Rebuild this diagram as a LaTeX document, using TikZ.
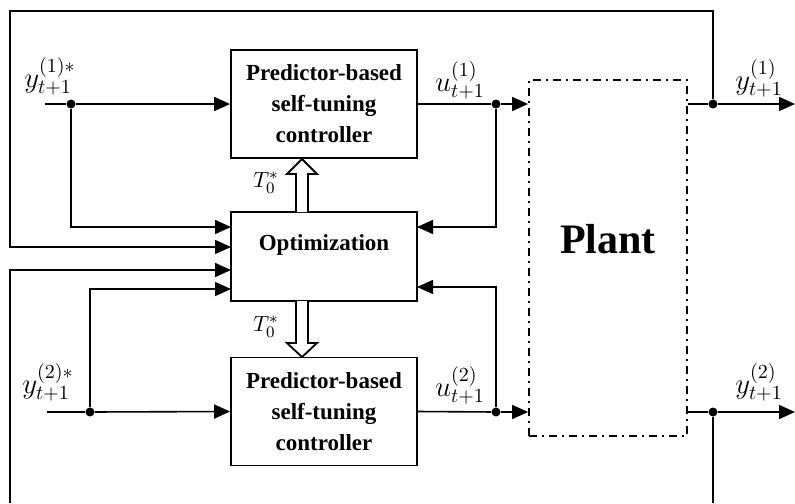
\documentclass[tikz,border=0pt]{standalone}
\usepackage{fontspec}
\setmainfont{Liberation Serif}
\usetikzlibrary{arrows.meta}
\tikzset{
  block/.style={draw, line width=0.9pt, minimum width=93pt, align=center,
    font=\fontsize{11.5}{15.5}\selectfont\bfseries},
  wire/.style={line width=0.8pt},
  arr/.style={line width=0.8pt, -{Triangle[length=8pt,width=7pt]}},
  dot/.style={circle, fill, inner sep=0pt, minimum size=4.5pt},
  lbl/.style={font=\fontsize{14}{16}\selectfont},
  hollow/.style={line width=0.9pt, fill=white},
}
\begin{document}
\begin{tikzpicture}[x=0.5pt, y=-0.5pt]
\useasboundingbox (0,0) rectangle (795,503);

% blocks
\node[block, minimum height=54pt] (ctrl1) at (324,104) {Predictor-based\\self-tuning\\controller};
\node[block, minimum height=44.5pt, text height=8pt, text depth=14pt] (opt) at (324,256.5) {Optimization};
\node[block, minimum height=54pt] (ctrl2) at (324,411.5) {Predictor-based\\self-tuning\\controller};
\node[draw, line width=0.9pt, dash pattern=on 4pt off 2.5pt on 1pt off 2.5pt,
  minimum width=79pt, minimum height=178pt, text height=15pt, text depth=20pt,
  font=\fontsize{21}{24}\selectfont\bfseries] (plant) at (608,258) {Plant};

% branch points
\coordinate (in1) at (45,104);
\coordinate (in2) at (47,412);
\node[dot] (j1) at (71,104) {};
\node[dot] (j2) at (90,412) {};
\node[dot] (ju1) at (496,104) {};
\node[dot] (ju2) at (496,412) {};
\node[dot] (jy1) at (713,104) {};
\node[dot] (jy2) at (713,412) {};
\coordinate (out1) at (795,104);
\coordinate (out2) at (795,412);

% inputs of the optimization block
\coordinate (oa) at (231,227);
\coordinate (ob) at (231,247);
\coordinate (oc) at (231,270);
\coordinate (od) at (231,289);
\coordinate (oe) at (417,227);
\coordinate (of) at (417,287);

% references
\draw[wire] (in1) -- (j1);
\draw[arr] (j1) -- (ctrl1.west);
\draw[arr] (j1) |- (oa);
\draw[wire] (in2) -- (j2);
\draw[arr] (j2) -- (ctrl2.west);
\draw[arr] (j2) |- (od);

% control signals
\draw[wire] (ctrl1.east) -- (ju1);
\draw[arr] (ju1) -- (plant.west |- ju1);
\draw[arr] (ju1) |- (oe);
\draw[wire] (ctrl2.east) -- (ju2);
\draw[arr] (ju2) -- (plant.west |- ju2);
\draw[arr] (ju2) |- (of);

% outputs and feedback
\draw[wire] (plant.east |- jy1) -- (jy1);
\draw[arr] (jy1) -- (out1);
\draw[wire] (plant.east |- jy2) -- (jy2);
\draw[arr] (jy2) -- (out2);
\draw[arr] (jy1) |- (10,11) |- (ob);
\draw[wire] (jy2) -- (713,503);
\draw[arr] (10,503) |- (oc);

% T0 transfer
\draw[hollow] (296,212) -- (296,174) -- (287,174) -- (302,159) -- (317,174) -- (308,174) -- (308,212);
\draw[hollow] (296,301) -- (296,343) -- (287,343) -- (302,357) -- (317,343) -- (308,343) -- (308,301);

% labels
\node[lbl] (ly1s) at (50,76) {$y_{t+1}^{(1)*}$};
\node[lbl] (ly2s) at (48,382) {$y_{t+1}^{(2)*}$};
\node[lbl] (lu1) at (460,80) {$u_{t+1}^{(1)}$};
\node[lbl] (lu2) at (460,385) {$u_{t+1}^{(2)}$};
\node[lbl] (ly1) at (759,78) {$y_{t+1}^{(1)}$};
\node[lbl] (ly2) at (759,382) {$y_{t+1}^{(2)}$};
\node[font=\fontsize{11}{13}\selectfont] (lt1) at (266,183) {$T_0^*$};
\node[font=\fontsize{11}{13}\selectfont] (lt2) at (266,327) {$T_0^*$};
\end{tikzpicture}
\end{document}
